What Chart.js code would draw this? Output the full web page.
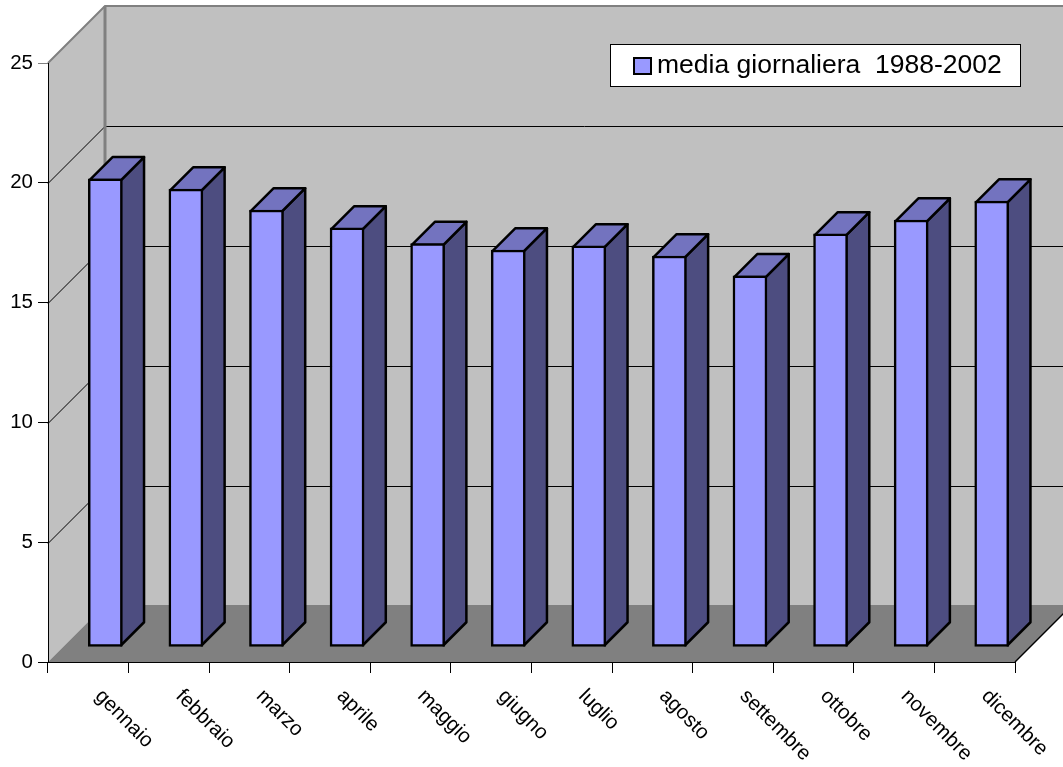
<!DOCTYPE html>
<html>
<head>
<meta charset="utf-8">
<title>media giornaliera</title>
<script src="https://cdn.jsdelivr.net/npm/chart.js@4"></script>
<style>
body { margin: 0; background: #fff; }
canvas { display: block; }
</style>
</head>
<body>
<canvas id="myChart" width="1063" height="767"></canvas>
<script>
var months = ['gennaio', 'febbraio', 'marzo', 'aprile', 'maggio', 'giugno', 'luglio', 'agosto', 'settembre', 'ottobre', 'novembre', 'dicembre'];
var media = [19.54, 19.11, 18.24, 17.49, 16.84, 16.57, 16.74, 16.32, 15.49, 17.24, 17.82, 18.61];
var seriesName = 'media giornaliera  1988-2002';
var yMax = 25;
var yStep = 5;

var FONT = '20.5px "Liberation Sans", Arial, sans-serif';
var LEGEND_FONT = '26.5px "Liberation Sans", Arial, sans-serif';
var DEPTH = 57;      // floor depth in px, same in x and y
var BAR_SHIFT_X = 17, BAR_SHIFT_Y = 15;
var BAR_DEPTH = 23;
var BAR_LINE = 2.5;

function poly(ctx, pts, fill, stroke, lw) {
    ctx.beginPath();
    ctx.moveTo(pts[0][0], pts[0][1]);
    for (var i = 1; i < pts.length; i++) ctx.lineTo(pts[i][0], pts[i][1]);
    if (fill) {
        ctx.closePath();
        ctx.fillStyle = fill;
        ctx.fill();
    }
    if (stroke) {
        ctx.strokeStyle = stroke;
        ctx.lineWidth = lw || 1;
        ctx.stroke();
    }
}

// walls and floor, behind the axes
var walls = {
    id: 'walls',
    beforeDraw: function(chart) {
        var ctx = chart.ctx, a = chart.chartArea, y = chart.scales.y;
        var l = a.left, r = a.right, t = a.top, b = a.bottom, d = DEPTH;
        ctx.save();
        poly(ctx, [[l, t], [l + d, t - d], [r + d, t - d], [r + d, b - d], [l + d, b - d], [l, b]], '#c0c0c0');
        poly(ctx, [[l, b], [r, b], [r + d, b - d], [l + d, b - d]], '#808080');
        // gridlines
        for (var v = yStep; v < yMax; v += yStep) {
            var py = Math.round(y.getPixelForValue(v) - d + 0.5) + 0.5;
            poly(ctx, [[l, py + d], [l + d, py], [r + d, py]], null, '#000', 1);
        }
        // frame
        poly(ctx, [[l, t], [l + d, t - d], [r + d, t - d]], null, '#808080', 2);
        poly(ctx, [[l + d, t - d], [l + d, b - d]], null, '#808080', 3);
        poly(ctx, [[r, b], [r + d, b - d]], null, '#000', 1.5);
        ctx.restore();
    }
};

// 3D sides of the bars, the front faces are drawn by the bar controller
var bars3d = {
    id: 'bars3d',
    beforeDatasetDraw: function(chart, args) {
        var ctx = chart.ctx, dp = BAR_DEPTH, inset = BAR_LINE / 2;
        ctx.save();
        ctx.translate(BAR_SHIFT_X, -BAR_SHIFT_Y);
        ctx.lineJoin = 'round';
        args.meta.data.forEach(function(bar) {
            var p = bar.getProps(['x', 'y', 'base', 'width'], true);
            var x0 = p.x - p.width / 2 + inset, x1 = p.x + p.width / 2 - inset, top = p.y + inset, base = p.base - inset;
            poly(ctx, [[x1, base], [x1 + dp, base - dp], [x1 + dp, top - dp], [x1, top]], '#4d4d80', '#000', BAR_LINE);
            poly(ctx, [[x0, top], [x0 + dp, top - dp], [x1 + dp, top - dp], [x1, top]], '#7373bf', '#000', BAR_LINE);
        });
    },
    afterDatasetDraw: function(chart) {
        chart.ctx.restore();
    }
};

// rotated month labels and the legend box
var labels = {
    id: 'labels',
    afterDraw: function(chart) {
        var ctx = chart.ctx, x = chart.scales.x;
        ctx.save();
        ctx.font = FONT;
        ctx.fillStyle = '#000';
        ctx.textAlign = 'left';
        ctx.textBaseline = 'middle';
        chart.data.labels.forEach(function(name, i) {
            ctx.save();
            ctx.translate(x.getPixelForTick(i) + 10, 693);
            ctx.rotate(Math.PI / 4);
            ctx.fillText(name, 0, 0);
            ctx.restore();
        });

        ctx.fillStyle = '#fff';
        ctx.fillRect(610.5, 44.5, 410, 42);
        ctx.strokeStyle = '#000';
        ctx.lineWidth = 1;
        ctx.strokeRect(610.5, 44.5, 410, 42);
        ctx.fillStyle = '#9999ff';
        ctx.lineWidth = 2;
        ctx.fillRect(634, 58, 17, 16);
        ctx.strokeRect(634, 58, 17, 16);
        ctx.font = LEGEND_FONT;
        ctx.fillStyle = '#000';
        ctx.fillText(chart.data.datasets[0].label, 657, 66);
        ctx.restore();
    }
};

var myChart = new Chart(document.getElementById('myChart').getContext('2d'), {
    type: 'bar',
    data: {
        labels: months,
        datasets: [{
            label: seriesName,
            data: media,
            backgroundColor: '#9999ff',
            borderColor: '#000',
            borderWidth: BAR_LINE,
            borderSkipped: false,
            barThickness: 34,
            clip: false
        }]
    },
    options: {
        responsive: false,
        animation: false,
        events: [],
        layout: { padding: { top: 63, right: 48, left: 0, bottom: 0 } },
        plugins: { legend: { display: false }, title: { display: false }, tooltip: { enabled: false } },
        scales: {
            x: {
                grid: {
                    drawOnChartArea: false,
                    tickLength: 11,
                    tickColor: function(c) { return c.index === months.length ? '#808080' : '#000'; }
                },
                border: { color: '#000' },
                ticks: { display: false },
                afterFit: function(s) { s.height = 105; }
            },
            y: {
                min: 0,
                max: yMax,
                grid: {
                    drawOnChartArea: false,
                    tickLength: 10,
                    tickColor: function(c) { return c.tick.value === yMax ? '#808080' : '#000'; }
                },
                border: { color: '#000' },
                ticks: {
                    stepSize: yStep,
                    padding: 5,
                    color: '#000',
                    font: { family: '"Liberation Sans", Arial, sans-serif', size: 20.5 }
                },
                afterFit: function(s) { s.width = 48; }
            }
        }
    },
    plugins: [walls, bars3d, labels]
});
</script>
</body>
</html>
